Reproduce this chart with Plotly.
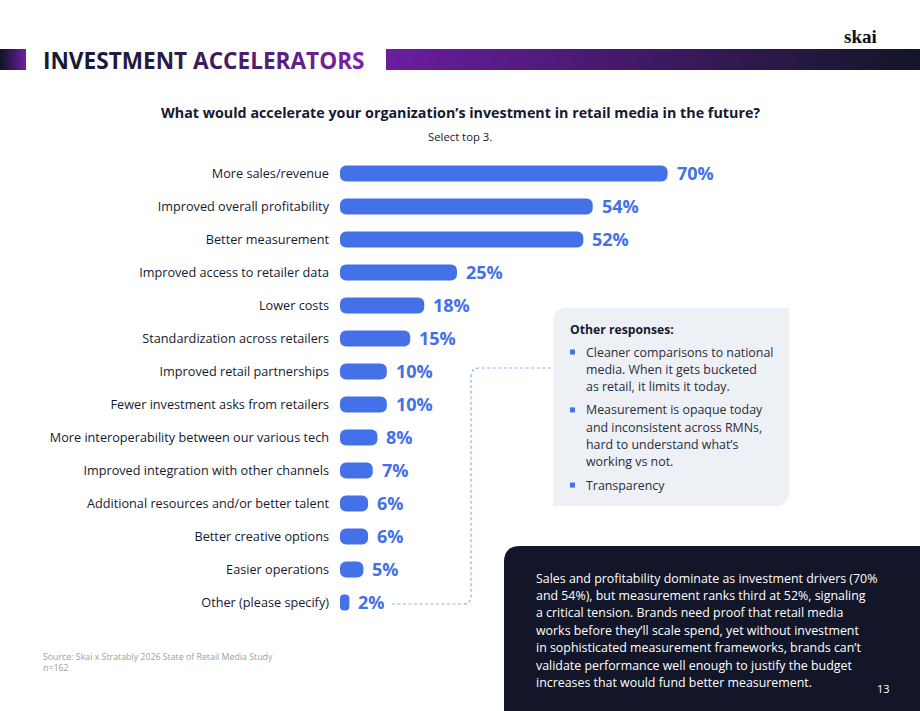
import plotly.graph_objects as go

categories = [
    "More sales/revenue", "Improved overall profitability", "Better measurement",
    "Improved access to retailer data", "Lower costs", "Standardization across retailers",
    "Improved retail partnerships", "Fewer investment asks from retailers",
    "More interoperability between our various tech", "Improved integration with other channels",
    "Additional resources and/or better talent", "Better creative options",
    "Easier operations", "Other (please specify)",
]
values = [70, 54, 52, 25, 18, 15, 10, 10, 8, 7, 6, 6, 5, 2]

other_responses = [
    ["Cleaner comparisons to national", "media. When it gets bucketed", "as retail, it limits it today."],
    ["Measurement is opaque today", "and inconsistent across RMNs,", "hard to understand what’s", "working vs not."],
    ["Transparency"],
]
insight_lines = [
    "Sales and profitability dominate as investment drivers (70%",
    "and 54%), but measurement ranks third at 52%, signaling",
    "a critical tension. Brands need proof that retail media",
    "works before they’ll scale spend, yet without investment",
    "in sophisticated measurement frameworks, brands can’t",
    "validate performance well enough to justify the budget",
    "increases that would fund better measurement.",
]
title = "INVESTMENT ACCELERATORS"
question = "What would accelerate your organization’s investment in retail media in the future?"
subtitle = "Select top 3."
source = "Source: Skai x Stratably 2026 State of Retail Media Study<br>n=162"

W, H = 920, 711
L, R, T, B = 340, 112, 157, 92
PW, PH = W - L - R, H - T - B
FONT = "Open Sans"
BLUE = "#4470E8"
DARK = "#161a30"
NAVY = "#121628"
PURPLE = (107, 29, 158)
NAVYRGB = (18, 22, 40)


def px(x):
    return (x - L) / PW


def py(y):
    return 1 - (y - T) / PH


def mix(c1, c2, t):
    return "rgb(%d,%d,%d)" % tuple(round(a + (b - a) * t) for a, b in zip(c1, c2))


fig = go.Figure()
# floating bars (explicit base) get all corners rounded
fig.add_trace(go.Bar(
    x=values, base=[0] * len(values), y=categories, orientation="h", width=0.48,
    marker=dict(color=BLUE, cornerradius=6, line=dict(width=0)), hoverinfo="skip",
))

annotations = []
for c, v in zip(categories, values):
    annotations.append(dict(x=v, y=c, xref="x", yref="y", text=f"<b>{v}%</b>", showarrow=False,
                            xanchor="left", yanchor="middle", xshift=7, yshift=1,
                            font=dict(family=FONT, size=18, color=BLUE)))

shapes = []
# gradient header bars
n = 60
x0, x1 = 386, 920
for i in range(n):
    a = x0 + (x1 - x0) * i / n
    b = x0 + (x1 - x0) * (i + 1) / n + 1
    shapes.append(dict(type="rect", xref="paper", yref="paper", x0=px(a), x1=px(b), y0=py(70), y1=py(49),
                       fillcolor=mix(PURPLE, NAVYRGB, i / (n - 1)), line=dict(width=0), layer="below"))
n = 8
for i in range(n):
    a = 26 * i / n
    b = 26 * (i + 1) / n + 1
    shapes.append(dict(type="rect", xref="paper", yref="paper", x0=px(a), x1=px(min(b, 26)), y0=py(70), y1=py(49),
                       fillcolor=mix(NAVYRGB, PURPLE, i / (n - 1)), line=dict(width=0), layer="below"))

# title with gradient letters
tl = []
for i, ch in enumerate(title):
    col = mix((22, 26, 48), (125, 35, 170), (i / (len(title) - 1)) ** 1.6)
    tl.append(f'<span style="color:{col}">{ch}</span>')
annotations.append(dict(x=px(41), y=py(60), xref="paper", yref="paper", text="<b>" + "".join(tl) + "</b>",
                        showarrow=False, xanchor="left", yanchor="middle",
                        font=dict(family=FONT, size=22.6)))
annotations.append(dict(x=px(879), y=py(36), xref="paper", yref="paper", text="<b>skai</b>",
                        showarrow=False, xanchor="right", yanchor="middle",
                        font=dict(family="Liberation Serif", size=19, color="#111")))

annotations.append(dict(x=px(460), y=py(113), xref="paper", yref="paper", text=f"<b>{question}</b>",
                        showarrow=False, xanchor="center", yanchor="middle",
                        font=dict(family=FONT, size=14.3, color=DARK)))
annotations.append(dict(x=px(460), y=py(137), xref="paper", yref="paper", text=subtitle,
                        showarrow=False, xanchor="center", yanchor="middle",
                        font=dict(family=FONT, size=11.3, color=DARK)))

# callout box (rounded top-left and bottom-right)
bx0, bx1, by0, by1, rr = 553, 789, 308, 506, 14
path = (f"M {px(bx0)},{py(by0 + rr)} Q {px(bx0)},{py(by0)} {px(bx0 + rr)},{py(by0)} "
        f"L {px(bx1)},{py(by0)} L {px(bx1)},{py(by1 - rr)} Q {px(bx1)},{py(by1)} {px(bx1 - rr)},{py(by1)} "
        f"L {px(bx0)},{py(by1)} Z")
shapes.append(dict(type="path", xref="paper", yref="paper", path=path, fillcolor="#edf1f5",
                   line=dict(width=0), layer="below"))
annotations.append(dict(x=px(568), y=py(329), xref="paper", yref="paper", text="<b>Other responses:</b>",
                        showarrow=False, xanchor="left", yanchor="middle",
                        font=dict(family=FONT, size=12.2, color=DARK)))
yy = 352
for group in other_responses:
    shapes.append(dict(type="rect", xref="paper", yref="paper", x0=px(570), x1=px(575),
                       y0=py(yy + 2.5), y1=py(yy - 2.5), fillcolor=BLUE, line=dict(width=0)))
    for line in group:
        annotations.append(dict(x=px(584), y=py(yy), xref="paper", yref="paper", text=line,
                                showarrow=False, xanchor="left", yanchor="middle",
                                font=dict(family=FONT, size=12.4, color="#2a2d3a")))
        yy += 17.3
    yy += 6

# dashed connector
cp = (f"M {px(392)},{py(604)} L {px(463)},{py(604)} Q {px(471)},{py(604)} {px(471)},{py(596)} "
      f"L {px(471)},{py(376)} Q {px(471)},{py(368)} {px(479)},{py(368)} L {px(553)},{py(368)}")
shapes.append(dict(type="path", xref="paper", yref="paper", path=cp,
                   line=dict(color="#8fb0ea", width=1.2, dash="3px,2.5px")))

# dark insight box
dx0, dy0, dr = 504, 546, 16
dpath = (f"M {px(dx0)},{py(H)} L {px(dx0)},{py(dy0 + dr)} Q {px(dx0)},{py(dy0)} {px(dx0 + dr)},{py(dy0)} "
         f"L {px(W)},{py(dy0)} L {px(W)},{py(H)} Z")
shapes.append(dict(type="path", xref="paper", yref="paper", path=dpath, fillcolor=NAVY, line=dict(width=0)))
for i, line in enumerate(insight_lines):
    annotations.append(dict(x=px(534), y=py(578 + i * 17.4), xref="paper", yref="paper", text=line,
                            showarrow=False, xanchor="left", yanchor="middle",
                            font=dict(family=FONT, size=12.4, color="white")))
annotations.append(dict(x=px(892), y=py(688), xref="paper", yref="paper", text="13",
                        showarrow=False, xanchor="right", yanchor="middle",
                        font=dict(family=FONT, size=11, color="white")))

annotations.append(dict(x=px(41), y=py(662), xref="paper", yref="paper", text=source, align="left",
                        showarrow=False, xanchor="left", yanchor="middle",
                        font=dict(family=FONT, size=8.8, color="#a0a0a0")))

fig.update_layout(
    width=W, height=H, margin=dict(l=L, r=R, t=T, b=B, pad=0),
    paper_bgcolor="white", plot_bgcolor="white", showlegend=False,
    xaxis=dict(range=[0, 100], visible=False, fixedrange=True),
    yaxis=dict(categoryorder="array", categoryarray=categories, autorange="reversed",
               showgrid=False, zeroline=False, showline=False, ticks="", ticklabelstandoff=10,
               tickfont=dict(family=FONT, size=12.7, color=DARK), range=[13.5, -0.5]),
    shapes=shapes, annotations=annotations,
    font=dict(family=FONT),
)
fig.write_html("out.html")
